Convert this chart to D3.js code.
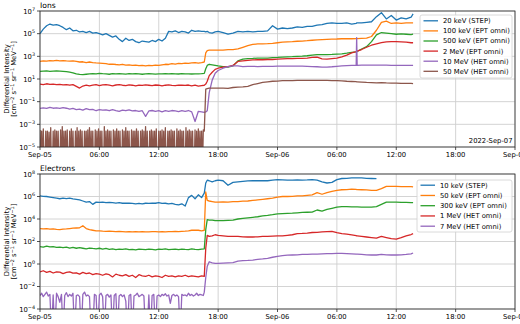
<!DOCTYPE html>
<html><head><meta charset="utf-8">
<script src="https://cdn.jsdelivr.net/npm/d3@7"></script>
<style>
body{margin:0;background:#fff}
text{font-family:"DejaVu Sans",sans-serif;fill:#000}
</style>
</head><body>
<svg id="c" width="520" height="324"></svg>
<script>
// ---------- sampling times (hours since 2022-09-05 00:00 UTC) ----------
const hoursPre = [0,0.33,0.67,1,1.33,1.67,2,2.33,2.67,3,3.33,3.67,4,4.33,4.67,5,5.33,5.67,6,6.33,6.67,7,7.33,7.67,8,8.33,8.67,9,9.33,9.67,10,10.33,10.67,11,11.33,11.67,12,12.33,12.67,13,13.33,13.67,14,14.33,14.67,15,15.33,15.67,16,16.33];
const hoursPreFine = [0,0.17,0.33,0.5,0.67,0.83,1,1.17,1.33,1.5,1.67,1.83,2,2.17,2.33,2.5,2.67,2.83,3,3.17,3.33,3.5,3.67,3.83,4,4.17,4.33,4.5,4.67,4.83,5,5.17,5.33,5.5,5.67,5.83,6,6.17,6.33,6.5,6.67,6.83,7,7.17,7.33,7.5,7.67,7.83,8,8.17,8.33,8.5,8.67,8.83,9,9.17,9.33,9.5,9.67,9.83,10,10.17,10.33,10.5,10.67,10.83,11,11.17,11.33,11.5,11.67,11.83,12,12.17,12.33,12.5,12.67,12.83,13,13.17,13.33,13.5,13.67,13.83,14,14.17,14.33,14.5,14.67,14.83,15,15.17,15.33,15.5,15.67,15.83,16,16.17,16.33,16.5];
// 5-minute samples (minutes since 2022-09-05 00:00) for the 50 MeV ion counts before the event
const minutesPre5 = [0,5,10,15,20,25,30,35,40,45,50,55,60,65,70,75,80,85,90,95,
100,105,110,115,120,125,130,135,140,145,150,155,160,165,170,175,180,185,190,195,
200,205,210,215,220,225,230,235,240,245,250,255,260,265,270,275,280,285,290,295,
300,305,310,315,320,325,330,335,340,345,350,355,360,365,370,375,380,385,390,395,
400,405,410,415,420,425,430,435,440,445,450,455,460,465,470,475,480,485,490,495,
500,505,510,515,520,525,530,535,540,545,550,555,560,565,570,575,580,585,590,595,
600,605,610,615,620,625,630,635,640,645,650,655,660,665,670,675,680,685,690,695,
700,705,710,715,720,725,730,735,740,745,750,755,760,765,770,775,780,785,790,795,
800,805,810,815,820,825,830,835,840,845,850,855,860,865,870,875,880,885,890,895,
900,905,910,915,920,925,930,935,940,945,950,955,960,965,970,975,980,985,990];
const hoursPost = [16.6,16.75,16.9,17.1,17.4,17.7,18,18.5,19,19.5,20,20.5,21,21.5,22,22.5,23,23.5,24,24.5,25,25.5,26,26.5,27,27.5,28,28.5,29,29.5,30,30.5,31,31.5,31.95,32,32.05,32.5,33,33.5,34,34.5,35,35.5,36,36.5,37,37.5,37.7];

// ---------- Ions: log10 differential intensity (null = zero counts) ----------
const ionLabels = ["20 keV (STEP)","100 keV (EPT omni)","500 keV (EPT omni)","2 MeV (EPT omni)","10 MeV (HET omni)","50 MeV (HET omni)"];
const ion20keVPre = [5.0,5.4,5.7,5.85,5.75,5.8,5.7,5.55,5.35,5.5,5.25,5.3,5.15,5.2,5.1,5.2,5.05,5.1,5.0,4.9,5.0,4.85,4.7,4.8,4.5,4.3,4.6,4.4,4.5,4.3,4.2,4.35,4.3,4.25,4.4,4.3,4.5,4.35,4.6,5.2,5.15,5.25,5.1,5.2,5.15,5.05,5.3,5.2,5.25,5.2];
const ion20keVPost = [5.2,5.15,5.2,5.1,5.05,5.15,5.2,5.1,4.95,5.05,5.2,5.15,5.2,5.15,5.2,5.2,5.25,5.7,5.4,5.5,5.45,5.5,5.6,5.55,5.65,5.65,5.75,5.8,5.9,5.95,5.9,5.9,5.95,5.85,5.9,5.95,5.95,5.95,6.0,6.05,6.5,6.85,6.3,6.6,6.2,6.4,6.3,6.45,6.75];
const ion100keVPre = [2.55,2.6,2.58,2.62,2.6,2.65,2.6,2.63,2.6,2.58,2.6,2.55,2.5,2.52,2.45,2.5,2.45,2.42,2.4,2.38,2.35,2.3,2.32,2.28,2.25,2.3,2.22,2.25,2.2,2.22,2.18,2.2,2.15,2.2,2.18,2.22,2.2,2.25,2.3,2.28,2.35,2.32,2.38,2.35,2.4,2.38,2.42,2.45,2.4,2.45];
const ion100keVPost = [2.5,3.3,3.5,3.55,3.55,3.55,3.55,3.55,3.6,3.6,3.65,3.8,3.95,4.05,4.1,4.1,4.12,4.15,4.2,4.25,4.28,4.3,4.33,4.35,4.38,4.42,4.45,4.48,4.5,4.52,4.53,4.55,4.55,4.55,4.56,4.57,4.57,4.58,4.6,4.75,5.3,6.0,6.1,5.9,5.95,5.9,5.95,5.95,5.95];
const ion500keVPre = [1.68,1.7,1.72,1.68,1.7,1.72,1.7,1.68,1.65,1.6,1.55,1.45,1.4,1.38,1.42,1.45,1.48,1.45,1.5,1.47,1.45,1.42,1.48,1.45,1.47,1.45,1.43,1.47,1.45,1.48,1.45,1.42,1.45,1.47,1.45,1.43,1.46,1.45,1.48,1.45,1.47,1.45,1.44,1.47,1.45,1.46,1.44,1.46,1.45,1.47];
const ion500keVPost = [1.5,1.9,2.2,2.3,2.25,2.2,2.15,2.1,2.05,2.15,2.6,2.75,2.8,2.82,2.85,2.85,2.85,2.88,2.9,2.93,2.95,2.97,3.0,3.02,3.05,3.1,3.15,3.15,3.15,3.17,3.2,3.22,3.28,3.35,3.4,3.42,3.44,3.65,3.85,4.3,4.9,5.1,5.05,5.0,4.95,4.98,4.95,4.92,4.95];
const ion2MeVPre = [0.55,0.5,0.58,0.52,0.55,0.5,0.53,0.48,0.5,0.45,0.5,0.35,0.2,0.38,0.45,0.4,0.45,0.5,0.42,0.48,0.5,0.45,0.4,0.47,0.5,0.45,0.42,0.48,0.45,0.4,0.46,0.44,0.48,0.45,0.42,0.47,0.45,0.4,0.45,0.48,0.44,0.42,0.46,0.45,0.43,0.47,0.4,0.45,0.38,0.42];
const ion2MeVPost = [0.45,0.55,0.8,1.3,1.6,1.85,1.95,2.05,2.1,2.2,2.55,2.6,2.65,2.68,2.7,2.7,2.72,2.72,2.75,2.78,2.8,2.8,2.82,2.82,2.85,2.9,2.92,2.78,2.75,2.8,2.85,2.95,3.1,3.3,3.42,3.44,3.46,3.6,3.8,3.98,4.1,4.2,4.28,4.3,4.3,4.28,4.25,4.2,4.2];
const ion10MeVPre = [-1.6,-1.55,-1.6,-1.5,-1.58,-1.55,-1.6,-1.52,-1.58,-1.65,-1.6,-1.7,-1.65,-1.75,-1.62,-1.7,-1.68,-1.8,-1.7,-1.75,-1.72,-1.8,-1.7,-1.78,-1.85,-1.75,-1.8,-1.72,-1.82,-1.78,-1.85,-1.8,-2.3,-1.82,-1.78,-1.85,-1.8,-1.9,-1.8,-1.85,-1.78,-1.82,-1.88,-1.8,-1.85,-1.78,-1.9,-2.75,-1.85,-1.9];
const ion10MeVPost = [-1.95,-1.9,-1.8,-0.2,0.9,1.5,1.75,1.95,2.1,2.15,2.15,2.1,2.12,2.12,2.1,2.12,2.12,2.12,2.13,2.13,2.14,2.14,2.14,2.13,2.12,2.1,2.08,2.05,2.05,2.08,2.12,2.15,2.18,2.2,2.2,4.65,2.2,2.22,2.23,2.23,2.22,2.22,2.22,2.21,2.2,2.2,2.2,2.2,2.2];
const ion50MeVPre5 = [
-3.5,null,-3.6,null,-3.4,null,null,-3.6,null,-3.6,null,-3.7,null,-3.3,null,null,-3.6,null,-3.5,null,
-3.6,null,-3.6,null,null,-3.5,null,-3.2,null,-3.6,null,-3.6,null,-3.5,null,null,-3.6,null,-3.4,null,
-3.6,null,null,-3.6,null,-3.3,null,-3.6,null,-3.5,null,-3.6,null,null,-3.6,null,-3.6,null,-3.5,null,
-3.3,null,-3.6,null,-3.6,null,null,-3.5,null,-3.6,null,-3.4,null,-3.6,null,-3.6,null,null,-3.2,null,
-3.6,null,-3.5,null,-3.6,null,-3.6,null,null,-3.5,null,-3.6,null,-3.4,null,-3.6,null,-3.6,null,null,
-3.5,null,-3.6,null,-3.3,null,-3.6,null,-3.6,null,null,-3.5,null,-3.6,null,-3.6,null,-3.4,null,-3.6,
null,null,-3.6,null,-3.5,null,-3.6,null,-3.2,null,-3.6,null,null,-3.6,null,-3.5,null,-3.6,null,-3.6,
null,-3.4,null,null,-3.6,null,-3.6,null,-3.5,null,-3.6,null,-3.3,null,null,-3.6,null,-3.6,null,-3.5,
null,-3.6,null,-3.6,null,null,-3.4,null,-3.6,null,-3.5,null,-3.6,null,-3.6,null,null,-3.3,null,-3.6,
null,-3.5,null,-3.6,null,-3.6,null,null,-3.5,null,-3.6,null,-3.4,null,-3.6,null,-3.6,null,-3.5];
const ion50MeVPost = [-3.6,0.1,0.15,0.2,0.2,0.2,0.2,0.2,0.18,0.25,0.28,0.3,0.35,0.5,0.6,0.7,0.75,0.8,0.82,0.85,0.85,0.86,0.87,0.87,0.87,0.88,0.88,0.88,0.87,0.86,0.85,0.83,0.8,0.78,0.76,0.75,0.75,0.73,0.7,0.68,0.65,0.67,0.65,0.64,0.63,0.62,0.62,0.61,0.6];

// ---------- Electrons: log10 differential intensity (null = zero counts) ----------
const eleLabels = ["10 keV (STEP)","50 keV (EPT omni)","300 keV (EPT omni)","1 MeV (HET omni)","7 MeV (HET omni)"];
const ele10keVPre = [6.05,6.02,6.0,5.95,5.9,5.85,5.8,5.85,5.82,5.85,5.78,5.75,5.7,5.6,5.5,5.55,5.3,5.5,5.48,5.5,5.45,5.48,5.45,5.42,5.45,5.4,5.42,5.4,5.38,5.35,5.38,5.35,5.4,5.38,5.42,5.4,5.45,5.38,5.4,5.35,5.38,5.3,5.25,5.35,5.15,5.9,6.1,5.8,6.15,5.9];
const ele10keVPost = [6.3,7.2,7.45,7.4,7.3,7.4,7.45,7.4,7.0,7.25,7.3,7.35,7.38,7.4,7.4,7.42,7.4,7.45,7.5,7.48,7.45,7.45,7.48,7.45,7.47,7.5,7.45,7.3,7.2,7.25,7.5,7.6,7.62,7.65,7.65,7.65,7.65,7.65,7.62,7.6,7.58];
const ele50keVPre = [3.15,3.12,3.15,3.1,3.12,3.08,3.05,3.1,3.12,3.15,3.18,3.2,3.22,3.4,3.15,3.05,3.0,2.95,2.95,2.92,2.9,2.92,2.9,2.88,2.9,2.88,2.85,2.88,2.85,2.87,2.85,2.88,2.86,2.85,2.87,2.88,2.85,2.87,2.86,2.88,2.87,2.9,2.88,2.9,2.92,2.95,3.0,3.02,3.0,2.95];
const ele50keVPost = [3.0,6.4,5.65,5.6,5.55,5.5,5.5,5.52,5.5,5.55,5.55,5.58,5.6,5.65,5.7,5.75,5.8,5.85,5.95,6.0,6.0,6.02,6.05,6.05,6.1,6.15,6.35,6.2,6.35,6.45,6.55,6.6,6.62,6.65,6.63,6.62,6.62,6.6,6.58,6.55,6.55,6.7,6.9,6.9,6.9,6.88,6.88,6.87,6.85];
const ele300keVPre = [1.55,1.5,1.58,1.52,1.55,1.48,1.5,1.45,1.5,1.42,1.48,1.4,1.45,1.4,1.35,1.42,1.38,1.35,1.4,1.32,1.38,1.3,1.35,1.28,1.32,1.3,1.35,1.28,1.3,1.25,1.32,1.3,1.28,1.33,1.3,1.25,1.32,1.3,1.35,1.28,1.3,1.32,1.27,1.33,1.3,1.28,1.35,1.3,1.28,1.32];
const ele300keVPost = [1.35,3.05,3.95,3.9,3.9,3.85,3.85,3.85,3.88,3.9,4.0,4.05,4.1,4.15,4.2,4.28,4.32,4.38,4.45,4.48,4.5,4.52,4.55,4.58,4.6,4.62,4.8,4.7,4.85,4.95,5.05,5.1,5.1,5.08,5.07,5.07,5.07,5.05,5.05,5.05,5.1,5.3,5.5,5.5,5.5,5.48,5.48,5.45,5.45];
const ele1MeVPre = [-0.7,-0.6,-0.75,-0.65,-0.8,-0.7,-0.72,-0.85,-0.75,-0.7,-0.82,-0.78,-0.9,-0.75,-0.85,-0.8,-0.95,-0.85,-0.9,-1.0,-0.88,-0.95,-1.15,-0.9,-1.0,-1.05,-0.95,-1.1,-1.0,-1.2,-0.95,-1.05,-1.1,-1.0,-1.15,-1.05,-1.1,-1.2,-1.0,-1.1,-1.05,-1.15,-1.05,-1.1,-1.0,-1.12,-1.05,-1.1,-1.15,-1.05];
const ele1MeVPost = [-1.1,1.4,2.55,2.45,2.5,2.6,2.55,2.5,2.45,2.45,2.45,2.42,2.4,2.4,2.42,2.45,2.45,2.48,2.5,2.5,2.55,2.6,2.7,2.72,2.75,2.8,2.82,2.85,2.88,2.9,2.78,2.7,2.65,2.58,2.52,2.5,2.5,2.45,2.4,2.35,2.3,2.45,2.35,2.25,2.22,2.35,2.5,2.62,2.7];
const ele7MeVPreFine = [-2.8,-2.6,-2.9,-2.7,-2.5,-2.85,-2.7,null,-2.75,null,-2.6,-2.9,-3.4,-2.7,null,-2.8,-2.55,-2.9,-2.7,-2.85,-2.6,null,-2.8,-2.75,-2.9,null,-2.7,-2.5,-2.85,-2.75,-2.9,null,null,-2.7,-2.8,null,-2.75,-2.6,-2.9,null,-2.8,-2.7,-2.95,-2.75,null,-2.8,-2.65,null,-2.85,-2.7,-2.9,-2.75,-3.3,null,-2.8,-2.7,null,-2.85,-2.75,-2.6,-2.9,-2.8,-2.7,-2.85,null,null,-2.75,null,-2.8,-2.7,null,-2.85,-2.75,-2.9,-2.7,-2.8,-2.65,-2.85,-2.75,-3.5,-2.8,-2.7,-2.85,-2.75,-2.9,null,-2.7,-2.8,-2.75,-2.85,-2.6,-2.8,-2.7,-2.85,-2.75,-2.6,-2.8,-2.7,-2.75,-2.8];
const ele7MeVPost = [-2.5,-1.2,-0.2,0.2,0.1,0.05,0.05,0.08,0.1,0.12,0.25,0.3,0.32,0.35,0.42,0.45,0.5,0.6,0.68,0.75,0.78,0.8,0.82,0.85,0.85,0.87,0.88,0.9,0.92,0.93,0.95,0.95,0.93,0.9,0.88,0.87,0.87,0.85,0.82,0.8,0.8,0.85,0.82,0.8,0.8,0.82,0.85,0.9,0.98];

const colors = ["#1f77b4","#ff7f0e","#2ca02c","#d62728","#9467bd","#8c564b"];
const ionTickExps = [-5,-3,-1,1,3,5,7];
const eleTickExps = [-4,-2,0,2,4,6,8];
const dateStamp = "2022-Sep-07";

// ---------- build ----------
const svg = d3.select("#c");
const T0 = Date.UTC(2022,8,5);
const toDate = h => new Date(T0 + h*3600000);
const x = d3.scaleUtc().domain([toDate(0), toDate(48)]).range([40,515]);
const xTicks = d3.utcHour.every(6).range(toDate(0), toDate(48.01));
const fmtTick = d => d.getUTCHours() === 0 ? d3.utcFormat("%b-%d")(d) : d3.utcFormat("%H:%M")(d);
const FS = 6.8;
const hoursPre5 = minutesPre5.map(m => m/60);

function series(preT, preV, postT, postV) {
  const a = preV.map((v,i)=>({t: preT[i], v}));
  const b = postV.map((v,i)=>({t: postT[i], v}));
  return a.concat(b);
}

const fmtExp = e => (e < 0 ? "\u2212" + (-e) : String(e));

function panel(cfg) {
  const g = svg.append("g");
  const y = d3.scaleLog().domain(cfg.domain).range([cfg.bottom, cfg.top]);
  const L = 40, R = 515, T = cfg.top, B = cfg.bottom;
  // grid
  g.append("g").selectAll("line").data(xTicks).join("line")
    .attr("x1", d=>x(d)).attr("x2", d=>x(d)).attr("y1", T).attr("y2", B)
    .attr("stroke", "#cfcfcf").attr("stroke-width", 0.9);
  g.append("g").selectAll("line").data(cfg.tickExps).join("line")
    .attr("x1", L).attr("x2", R).attr("y1", d=>y(Math.pow(10,d))).attr("y2", d=>y(Math.pow(10,d)))
    .attr("stroke", "#cfcfcf").attr("stroke-width", 0.9);
  // clip
  const cid = "clip" + cfg.id;
  svg.append("defs").append("clipPath").attr("id", cid).append("rect")
    .attr("x", L).attr("y", T).attr("width", R-L).attr("height", B-T);
  const floorY = B + 25;
  const line = d3.line().x(d=>x(toDate(d.t))).y(d=> d.v === null ? floorY : y(Math.pow(10, d.v)));
  const lg = g.append("g").attr("clip-path", `url(#${cid})`);
  cfg.series.forEach((s,i)=>{
    lg.append("path").datum(s).attr("d", line).attr("fill","none")
      .attr("stroke", colors[i]).attr("stroke-width", 1.3).attr("stroke-linejoin","round");
  });
  // spines
  g.append("rect").attr("x", L).attr("y", T).attr("width", R-L).attr("height", B-T)
    .attr("fill","none").attr("stroke","#262626").attr("stroke-width",0.8);
  // x ticks
  const xt = g.append("g");
  xt.selectAll("line").data(xTicks).join("line")
    .attr("x1", d=>x(d)).attr("x2", d=>x(d)).attr("y1", B).attr("y2", B+3)
    .attr("stroke","#262626").attr("stroke-width",0.8);
  xt.selectAll("text").data(xTicks).join("text")
    .attr("x", d=>x(d)).attr("y", B+9.5).attr("text-anchor","middle").attr("font-size", FS)
    .text(fmtTick);
  // y ticks
  const yt = g.append("g");
  yt.selectAll("line").data(cfg.tickExps).join("line")
    .attr("x1", L-3).attr("x2", L).attr("y1", d=>y(Math.pow(10,d))).attr("y2", d=>y(Math.pow(10,d)))
    .attr("stroke","#262626").attr("stroke-width",0.8);
  cfg.tickExps.forEach(e=>{
    const t = yt.append("text").attr("x", L-5).attr("y", y(Math.pow(10,e)) + 2.6)
      .attr("text-anchor","end").attr("font-size", FS);
    t.append("tspan").text("10");
    t.append("tspan").attr("dy", -2.9).attr("font-size", 4.9).text(fmtExp(e));
  });
  // title
  g.append("text").attr("x", L).attr("y", T-3.5).attr("font-size", 7.6).text(cfg.title);
  // y label
  const cy = (T+B)/2;
  g.append("text").attr("transform", `translate(8.5,${cy}) rotate(-90)`)
    .attr("text-anchor","middle").attr("font-size", FS).text("Differential Intensity");
  const l2 = g.append("text").attr("transform", `translate(16.3,${cy}) rotate(-90)`)
    .attr("text-anchor","middle").attr("font-size", FS);
  const parts = [["[cm","\u22122"],[" s","\u22121"],[" sr","\u22121"],[" MeV","\u22121"]];
  parts.forEach(([b,e],k)=>{
    l2.append("tspan").attr("dy", k === 0 ? 0 : 2.8).text(b);
    l2.append("tspan").attr("dy", -2.8).attr("font-size", 4.9).text(e);
  });
  l2.append("tspan").attr("dy", 2.8).text("]");
  // legend
  const lgd = cfg.legend;
  g.append("rect").attr("x", lgd.x).attr("y", lgd.y).attr("width", lgd.w).attr("height", lgd.h)
    .attr("rx", 2).attr("fill","#fff").attr("fill-opacity",0.85)
    .attr("stroke","#d0d0d0").attr("stroke-width",0.8);
  cfg.labels.forEach((lab,i)=>{
    const yy = lgd.row0 + i*lgd.dy;
    g.append("line").attr("x1", lgd.x+3.5).attr("x2", lgd.x+18).attr("y1", yy).attr("y2", yy)
      .attr("stroke", colors[i]).attr("stroke-width", 1.3);
    g.append("text").attr("x", lgd.x+23).attr("y", yy+2.4).attr("font-size", FS).text(lab);
  });
  if (cfg.stamp) {
    g.append("text").attr("x", R-2.5).attr("y", B-4.5).attr("text-anchor","end")
      .attr("font-size", FS).text(cfg.stamp);
  }
}

panel({
  id: "ions", title: "Ions", domain: [1e-5, 1e7], top: 11, bottom: 147, tickExps: ionTickExps,
  labels: ionLabels, stamp: dateStamp,
  legend: {x: 420, y: 15, w: 92, h: 63, row0: 20.8, dy: 10.1},
  series: [
    series(hoursPre, ion20keVPre, hoursPost, ion20keVPost),
    series(hoursPre, ion100keVPre, hoursPost, ion100keVPost),
    series(hoursPre, ion500keVPre, hoursPost, ion500keVPost),
    series(hoursPre, ion2MeVPre, hoursPost, ion2MeVPost),
    series(hoursPre, ion10MeVPre, hoursPost, ion10MeVPost),
    series(hoursPre5, ion50MeVPre5, hoursPost, ion50MeVPost)
  ]
});
panel({
  id: "ele", title: "Electrons", domain: [1e-4, 1e8], top: 174, bottom: 309, tickExps: eleTickExps,
  labels: eleLabels,
  legend: {x: 417, y: 180, w: 95, h: 52, row0: 185.2, dy: 10.25},
  series: [
    series(hoursPre, ele10keVPre, hoursPost, ele10keVPost),
    series(hoursPre, ele50keVPre, hoursPost, ele50keVPost),
    series(hoursPre, ele300keVPre, hoursPost, ele300keVPost),
    series(hoursPre, ele1MeVPre, hoursPost, ele1MeVPost),
    series(hoursPreFine, ele7MeVPreFine, hoursPost, ele7MeVPost)
  ]
});
</script>
</body></html>
